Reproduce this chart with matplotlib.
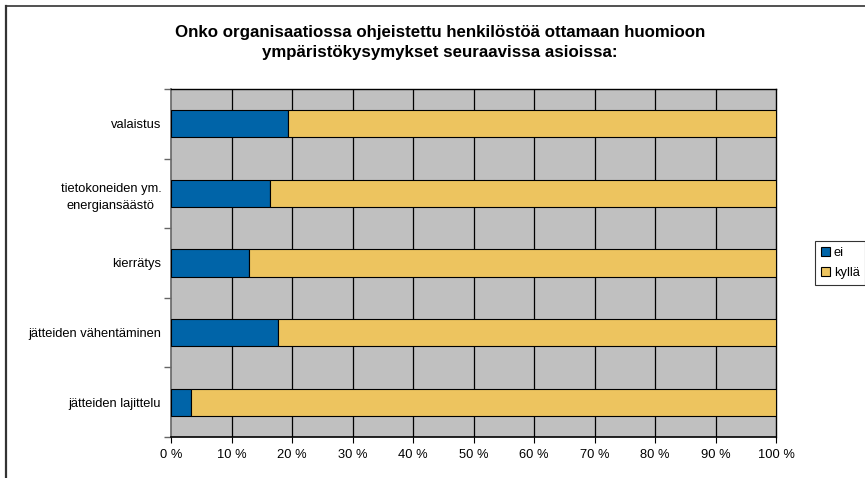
import matplotlib.pyplot as plt
import numpy as np
from matplotlib.lines import Line2D

categories = ["jätteiden lajittelu", "jätteiden vähentäminen", "kierrätys",
              "tietokoneiden ym.\nenergiansäästö", "valaistus"]
ei = [3.3, 17.7, 12.9, 16.4, 19.4]
kylla = [100 - v for v in ei]
xticks = list(range(0, 101, 10))
title = ("Onko organisaatiossa ohjeistettu henkilöstöä ottamaan huomioon\n"
         "ympäristökysymykset seuraavissa asioissa:")

BLUE = "#0064A8"
YELLOW = "#EDC45F"
GRAY = "#C0C0C0"

plt.rcParams["font.family"] = ["Liberation Sans", "DejaVu Sans"]

W, H = 865, 478
fig = plt.figure(figsize=(W / 100, H / 100), dpi=100)
fig.patch.set_facecolor("white")

# figure frame (only left and top visible)
fig.add_artist(Line2D([5.5 / W, 5.5 / W], [0, 1 - 5.5 / H], color="#333333", lw=1.6))
fig.add_artist(Line2D([5.5 / W, 1], [1 - 5.5 / H, 1 - 5.5 / H], color="#333333", lw=1.2))

ax = fig.add_axes([171 / W, (H - 437) / H, (776 - 171) / W, (437 - 89) / H])
ax.set_facecolor(GRAY)

y = np.arange(len(categories))
ax.barh(y, ei, height=0.39, color=BLUE, edgecolor="black", linewidth=0.8, zorder=3, label="ei")
ax.barh(y, kylla, left=ei, height=0.39, color=YELLOW, edgecolor="black", linewidth=0.8,
        zorder=3, label="kyllä")

ax.set_xlim(0, 100)
ax.set_ylim(-0.5, len(categories) - 0.5)
ax.set_xticks(xticks)
ax.set_xticklabels([f"{t} %" for t in xticks], fontsize=9.3)
for t in xticks[1:-1]:
    ax.axvline(t, color="black", lw=0.9, zorder=1)

ax.set_yticks(y)
ax.set_yticklabels(categories, fontsize=9.3, multialignment="center", linespacing=1.6)
ax.set_yticks(np.arange(-0.5, len(categories)), minor=True)
ax.tick_params(axis="y", which="major", length=0, pad=7)
ax.tick_params(axis="y", which="minor", length=5, color="#666666", width=1)
ax.tick_params(axis="x", length=4, color="black", pad=5)

for s in ["top", "right"]:
    ax.spines[s].set_color("black")
    ax.spines[s].set_linewidth(1)
ax.spines["left"].set_color("#666666")
ax.spines["left"].set_linewidth(1.2)
ax.spines["bottom"].set_color("black")
ax.spines["bottom"].set_linewidth(1.2)

fig.text(440 / W, 1 - 42.5 / H, title, ha="center", va="center", fontsize=12.2,
         fontweight="bold", linespacing=1.4)

# legend
leg = fig.legend(loc="upper left", bbox_to_anchor=(815 / W, 1 - 241 / H),
                 fontsize=9.3, frameon=True, fancybox=False, handlelength=0.7,
                 handleheight=0.7, handletextpad=0.3, borderpad=0.45,
                 labelspacing=0.65, borderaxespad=0)
leg.get_frame().set_edgecolor("black")
leg.get_frame().set_linewidth(0.8)

fig.savefig("out.png", dpi=100)
